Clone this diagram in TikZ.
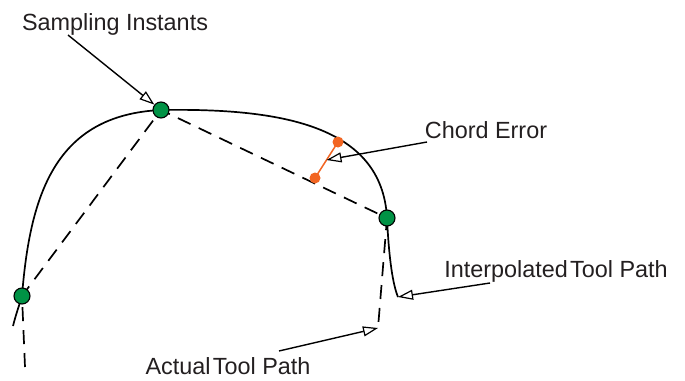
\documentclass[tikz,border=0pt]{standalone}
\usepackage{fontspec}
\setmainfont{Liberation Sans}
\usetikzlibrary{arrows.meta,calc}
\definecolor{inkgray}{HTML}{231F20}
\definecolor{samplegreen}{HTML}{009245}
\definecolor{errorange}{HTML}{F26522}
\tikzset{
  x=1pt, y=-1pt,
  toolpath/.style={line width=1.7pt, black},
  chordline/.style={line width=1.7pt, black, dash pattern=on 14pt off 9pt},
  sample/.style={circle, draw=black, line width=1.1pt, fill=samplegreen,
    minimum size=16pt, inner sep=0pt},
  errdot/.style={circle, fill=errorange, minimum size=11pt, inner sep=0pt},
  pointer/.style={line width=1.4pt, black,
    -{Triangle[open, length=15pt, width=10pt, line width=1.2pt]}},
  caption/.style={text=inkgray, font=\fontsize{23.4}{28}\selectfont,
    anchor=base, inner sep=0pt}
}
\begin{document}
\begin{tikzpicture}
\useasboundingbox (0,0) rectangle (685,380);

% sampling points and path ends
\coordinate (pA) at (22,296);
\coordinate (pB) at (161,110);
\coordinate (pC) at (387,218);
\coordinate (istart) at (13,326);
\coordinate (iend) at (398,297);
\coordinate (astart) at (25,367);
\coordinate (aend) at (378,328);

% interpolated (smooth) tool path
\draw[toolpath] (istart) .. controls (16,314) and (19,306) .. (pA)
  .. controls (30,195) and (55,115) .. (pB)
  .. controls (280,108) and (382,125) .. (pC)
  .. controls (389,260) and (393,285) .. (iend);

% actual (chordal) tool path
\draw[chordline] (astart) -- (pA) -- (pB) -- (pC) -- (aend);

% chord error marker
\node[errdot] (e1) at (338,142) {};
\node[errdot] (e2) at (315,178) {};
\draw[errorange, line width=1.5pt] (e1.center) -- (e2.center);
\coordinate (emid) at ($(e1.center)!0.5!(e2.center)$);

% sampling instants
\node[sample] (A) at (pA) {};
\node[sample] (B) at (pB) {};
\node[sample] (C) at (pC) {};

% labels
\node[caption] (lsamp) at (115,30) {Sampling Instants};
\node[caption] (lchord) at (486,138) {Chord Error};
\node[caption] (linterp) at (556,277) {Interpolated\hspace{0.1em}Tool Path};
\node[caption] (lactual) at (228,374) {Actual\hspace{0.1em}Tool Path};

% leader arrows
\coordinate (ssamp) at (68,35);
\coordinate (schord) at (427,142);
\coordinate (sinterp) at (490,283);
\coordinate (sactual) at (279,351);
\draw[pointer] (ssamp) -- (B);
\draw[pointer] (schord) -- (emid);
\draw[pointer] (sinterp) -- (iend);
\draw[pointer] (sactual) -- (aend);
\end{tikzpicture}
\end{document}
